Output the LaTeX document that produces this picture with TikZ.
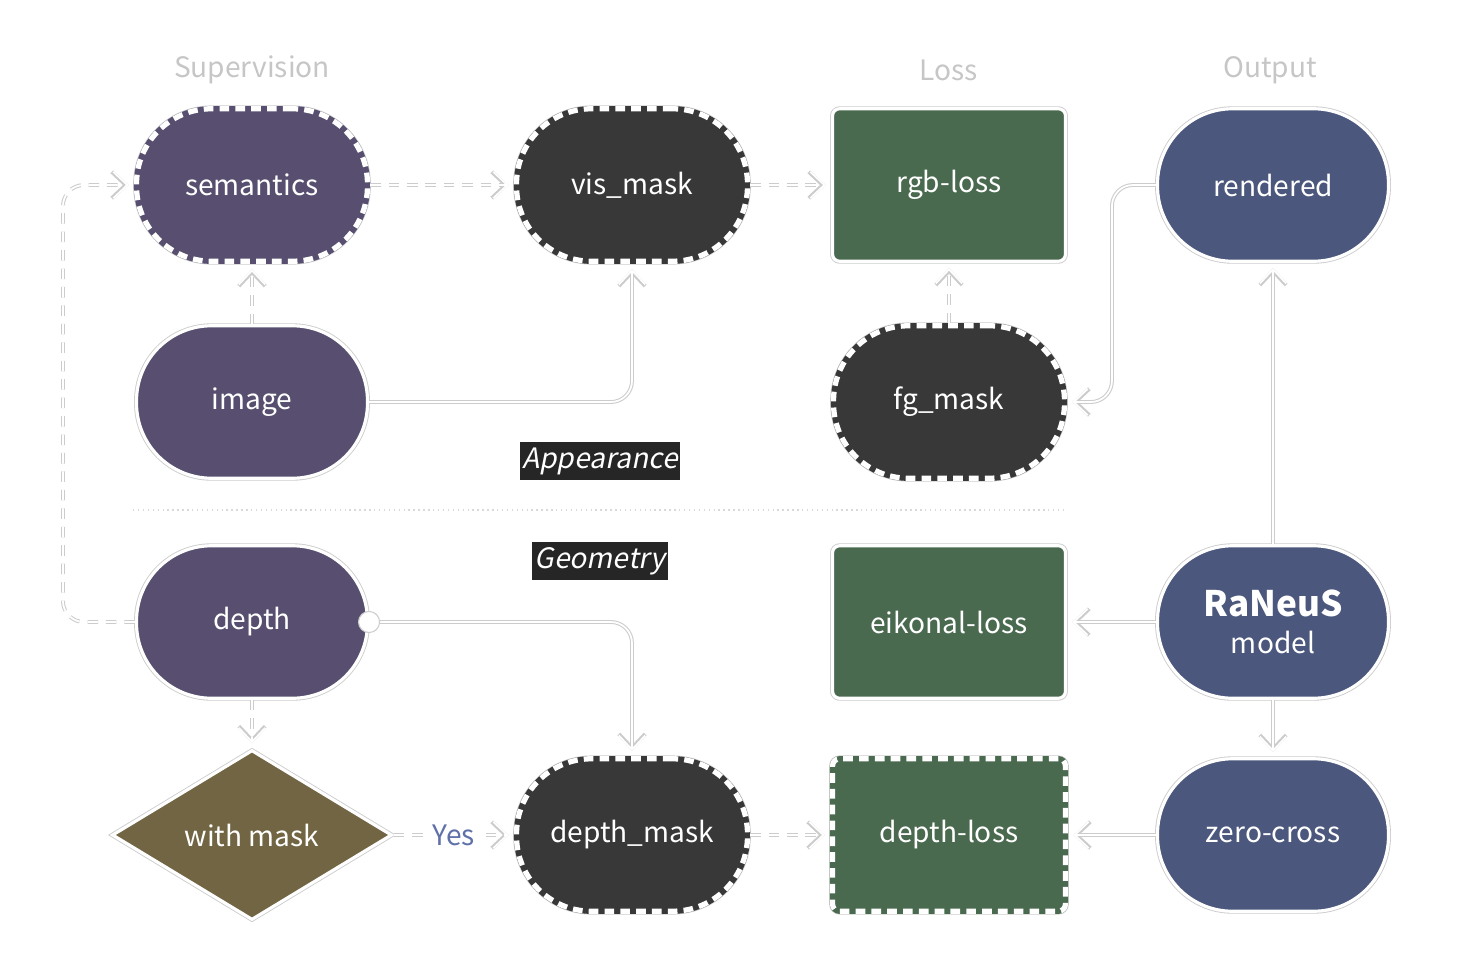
\documentclass[tikz,border=0pt]{standalone}
\usepackage{fontspec}
\setmainfont{Noto Sans CJK SC}[AutoFakeSlant=0.2]
\usetikzlibrary{arrows.meta,shapes.geometric,positioning}
\definecolor{suppurple}{HTML}{584F70}
\definecolor{maskgray}{HTML}{383838}
\definecolor{lossgreen}{HTML}{4A6A4F}
\definecolor{outblue}{HTML}{4B577C}
\definecolor{askbrown}{HTML}{716543}
\definecolor{yesblue}{HTML}{5F71A9}

\begin{document}
\begin{tikzpicture}
      [x = 0.02cm, y = -0.02cm,
      txt/.style = {font = \fontsize{16}{18}\selectfont, text = white},
      pill/.style = {
         txt,
         rectangle,
         rounded corners = 1.5cm,
         minimum width = 4.62cm,
         minimum height = 3.05cm
      },
      lossbox/.style = {
         txt,
         rectangle,
         rounded corners = 4pt,
         minimum width = 4.66cm,
         minimum height = 3.05cm
      },
      solidnode/.style = {
         fill = #1,
         draw = white,
         line width = 1.8pt,
         preaction = {draw = gray!40, line width = 2.8pt}
      },
      dashnode/.style = {
         fill = #1,
         draw = white,
         line width = 3pt,
         dash pattern = on 5.5pt off 3.5pt,
         preaction = {draw = gray!40, line width = 3.8pt, solid},
         preaction = {draw = #1, line width = 3pt, solid}
      },
      ask/.style = {
         txt,
         diamond,
         aspect = 1.65,
         inner sep = 0pt,
         minimum width = 5.6cm,
         minimum height = 3.4cm
      },
      heading/.style = {font = \fontsize{16}{18}\selectfont, text = gray!45},
      tag/.style = {
         font = \fontsize{16}{18}\selectfont\itshape,
         text = white,
         fill = black!85,
         inner xsep = 1.5pt,
         inner ysep = 3pt
      },
      barb/.style = {-{Straight Barb[length = 8pt, width = 15pt]}},
      link/.style = {
         draw = white,
         line width = 1pt,
         rounded corners = 12pt,
         shorten > = 3pt,
         barb,
         preaction = {draw = gray!40, line width = 2.2pt, shorten > = 3pt, barb}
      },
      dlink/.style = {
         draw = white,
         line width = 1pt,
         rounded corners = 12pt,
         shorten > = 3pt,
         dash pattern = on 6pt off 4.5pt,
         barb,
         preaction = {draw = gray!40, line width = 2.2pt, shorten > = 3pt,
            dash pattern = on 6pt off 4.5pt, barb}
      },
      knob/.style = {
         circle,
         fill = white,
         draw = gray!40,
         line width = 0.6pt,
         inner sep = 0pt,
         minimum size = 12pt
      },
      yes/.style = {font = \fontsize{16}{18}\selectfont, text = yesblue, fill = white, inner sep = 4pt}]
      \useasboundingbox (0, 0) rectangle (1474, 974);

      \node[heading] (hsup) at (252, 70) {Supervision};
      \node[heading] (hloss) at (949, 70) {Loss};
      \node[heading] (hout) at (1270, 70) {Output};

      % appearance
      \node[pill, dashnode = suppurple] (semantics) at (252, 185) {semantics};
      \node[pill, dashnode = maskgray] (vismask) at (632, 185) {vis\_mask};
      \node[lossbox, solidnode = lossgreen] (rgbloss) at (949, 185) {rgb-loss};
      \node[pill, solidnode = outblue] (rendered) at (1273, 185) {rendered};
      \node[pill, solidnode = suppurple] (image) at (252, 402) {image};
      \node[pill, dashnode = maskgray] (fgmask) at (949, 402) {fg\_mask};

      \node[tag] (appear) at (600, 461) {Appearance};
      \draw[gray!30, line width = 0.8pt, dotted] (133, 510) -- (1065, 510);
      \node[tag] (geom) at (600, 561) {Geometry};

      % geometry
      \node[pill, solidnode = suppurple] (depth) at (252, 622) {depth};
      \node[lossbox, solidnode = lossgreen] (eikonal) at (949, 622) {eikonal-loss};
      \node[pill, solidnode = outblue, align = center] (raneus) at (1273, 622)
         {{\fontsize{20}{22}\selectfont\bfseries RaNeuS}\\[3pt]model};
      \node[ask, solidnode = askbrown] (withmask) at (252, 835) {with mask};
      \node[pill, dashnode = maskgray] (dmask) at (632, 835) {depth\_mask};
      \node[lossbox, dashnode = lossgreen] (depthloss) at (949, 835) {depth-loss};
      \node[pill, solidnode = outblue] (zerocross) at (1273, 835) {zero-cross};

      \draw[dlink] (semantics) -- (vismask);
      \draw[dlink] (vismask) -- (rgbloss);
      \draw[dlink] (image) -- (semantics);
      \draw[link] (image) -| (vismask);
      \draw[dlink] (fgmask) -- (rgbloss);
      \draw[link] (rendered.west) -- ++(-44, 0) |- (fgmask.east);
      \draw[link] (raneus) -- (rendered);
      \draw[link] (raneus) -- (eikonal);
      \draw[link] (raneus) -- (zerocross);
      \draw[link] (zerocross) -- (depthloss);
      \draw[dlink] (dmask) -- (depthloss);
      \draw[dlink] (withmask) -- node[yes] (yes) {Yes} (dmask);
      \draw[dlink] (depth) -- (withmask);
      \draw[link] (depth) -| (dmask);
      \node[knob] (knob) at (depth.east) {};
      \draw[dlink] (depth.west) -- ++(-72, 0) |- (semantics.west);

   \end{tikzpicture}
\end{document}
